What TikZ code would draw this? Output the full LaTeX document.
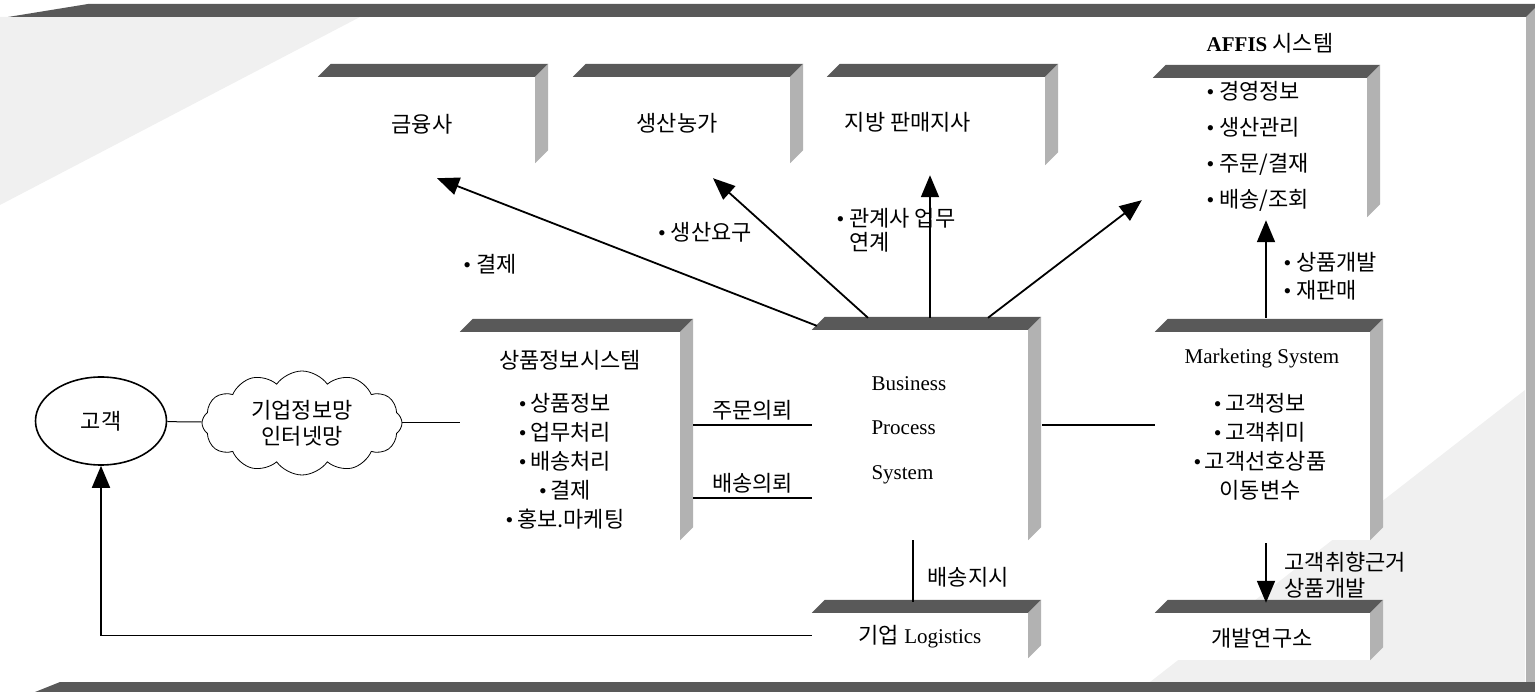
\documentclass[tikz,border=0pt]{standalone}
\usepackage{fontspec}
\setmainfont{Liberation Serif}
\newfontfamily\kr{Noto Sans CJK KR}
\usetikzlibrary{positioning,arrows.meta,shapes.geometric,shapes.symbols}
\newcommand\bul{{\rmfamily\textbullet}}
\tikzset{
  topface/.style={fill=black!65},
  sideface/.style={fill=black!30},
  scan/.style={fill=black!6},
  tdbox/.style={inner sep=0pt,fill=white},
  krtxt/.style={font=\kr\fontsize{22}{24}\selectfont},
  lattxt/.style={font=\fontsize{21}{26}\selectfont},
  arr/.style={-{Triangle[length=22pt,width=18pt]},line width=1.8pt},
  link/.style={line width=1.6pt},
  thinlink/.style={line width=1pt},
}

\begin{document}
\begin{tikzpicture}[x=1pt,y=-1pt]
  \useasboundingbox (0,0) rectangle (1535,692);
  % scanned shading of the frame
  \fill[scan] (0,17) -- (360,17) -- (0,205) -- cycle;
  \fill[scan] (1525,390) -- (1525,682) -- (1150,682) -- cycle;
  % outer frame
  \fill[topface] (8,17) -- (88,4) -- (1535,4) -- (1535,17) -- cycle;
  \fill[sideface] (1526,17) -- (1535,8) -- (1535,692) -- (1526,692) -- cycle;
  \fill[topface] (35,692) -- (60,682) -- (1535,682) -- (1535,692) -- cycle;

  % boxes
  \node[tdbox,minimum width=217pt,minimum height=86pt] (fin) at (426.5,120) {};
  \node[tdbox,minimum width=217pt,minimum height=86pt] (farm) at (681.5,120) {};
  \node[tdbox,minimum width=218pt,minimum height=88pt] (branch) at (936,121) {};
  \node[tdbox,minimum width=214pt,minimum height=139pt] (affis) at (1260,147.5) {};
  \node[tdbox,minimum width=220pt,minimum height=208pt] (pis) at (570,436) {};
  \node[tdbox,minimum width=216pt,minimum height=210pt] (bps) at (920,435) {};
  \node[tdbox,minimum width=215pt,minimum height=208pt] (mkt) at (1262.5,436) {};
  \node[tdbox,minimum width=215pt,minimum height=47pt] (lab) at (1262.5,636.5) {};
  \node[tdbox,minimum width=216pt,minimum height=45pt] (logi) at (920,635.5) {};
  \foreach \b in {fin,farm,branch,affis,pis,bps,mkt,lab,logi}{
    \fill[topface] (\b.north west) -- ++(13,-13) -- ([shift={(13,-13)}]\b.north east) -- (\b.north east) -- cycle;
    \fill[sideface] (\b.north east) -- ++(13,-13) -- ([shift={(13,-13)}]\b.south east) -- (\b.south east) -- cycle;
  }

  \node[ellipse,draw,line width=1.6pt,minimum width=131pt,minimum height=88pt,krtxt] (cust) at (101,421) {고객};
  \node[cloud,draw,line width=0.8pt,cloud puffs=12,cloud puff arc=110,aspect=2,
        minimum width=200pt,minimum height=104pt,inner sep=0pt,
        font=\kr\fontsize{22}{26}\selectfont,align=center] (net) at (302,423) {기업정보망\\인터넷망};

  % titles
  \node[krtxt] (fin-t) at (422,124) {금융사};
  \node[krtxt] (farm-t) at (677,123) {생산농가};
  \node[krtxt] (branch-t) at (908,122) {지방 판매지사};
  \node[lattxt] (affis-t) at (1270,43) {\textbf{AFFIS} {\kr\fontsize{22}{24}\selectfont 시스템}};
  \node[font=\kr\fontsize{22}{36}\selectfont,align=left,anchor=west] (affis-l) at (1203,146)
    {\bul\ 경영정보\\\bul\ 생산관리\\\bul\ 주문/결재\\\bul\ 배송/조회};
  \node[krtxt] (pis-t) at (570,360) {상품정보시스템};
  \node[font=\kr\fontsize{22}{29}\selectfont,align=center] (pis-l) at (565,461)
    {\bul\,상품정보\\\bul\,업무처리\\\bul\,배송처리\\\bul\,결제\\\bul\,홍보.마케팅};
  \node[font=\fontsize{21}{44.5}\selectfont,align=left,anchor=west] (bps-t) at (868,430)
    {Business\\Process\\System};
  \node[lattxt] (mkt-t) at (1262,358) {Marketing System};
  \node[font=\kr\fontsize{22}{29}\selectfont,align=center] (mkt-l) at (1260,447)
    {\bul\,고객정보\\\bul\,고객취미\\\bul\,고객선호상품\\이동변수};
  \node[krtxt] (lab-t) at (1262,638) {개발연구소};
  \node[lattxt] (logi-t) at (920,637) {{\kr\fontsize{22}{24}\selectfont 기업} Logistics};

  % connectors
  \draw[thinlink] (cust) -- (net);
  \draw[thinlink] (net.east) -- (net.east -| pis.west);
  \draw[link] ([shift={(13,-11)}]pis.east) coordinate (o1) -- (o1 -| bps.west)
    node[midway,above=1pt,krtxt] (ord) {주문의뢰};
  \draw[link] ([shift={(13,62)}]pis.east) coordinate (o2) -- (o2 -| bps.west)
    node[midway,above=1pt,krtxt] (dlv) {배송의뢰};
  \draw[link] ([shift={(14,-10)}]bps.east) coordinate (o3) -- (o3 -| mkt.west);
  \draw[arr] ([shift={(5,-4)}]bps.north west) -- ([shift={(10.5,15)}]fin.south);
  \draw[arr] ([shift={(-52,-12)}]bps.north) -- ([shift={(31.5,15)}]farm.south);
  \draw[arr] ([shift={(10,-12)}]bps.north) -- ([shift={(-6,10)}]branch.south);
  \draw[arr] ([shift={(68,-12)}]bps.north) -- ([shift={(-11,-17)}]affis.south west);
  \draw[arr] ([shift={(3.5,-14)}]mkt.north) -- ([shift={(6,3)}]affis.south);
  \draw[arr] ([shift={(3.5,3)}]mkt.south) -- ([shift={(3.5,-10)}]lab.north);
  \draw[link] ([xshift=-7pt]bps.south) -- ([shift={(-7,-11)}]logi.north);
  \draw[arr] (logi.west) -| (cust.south);

  % labels
  \node[krtxt] (l-pay) at (490,264) {\bul\ 결제};
  \node[krtxt] (l-req) at (705,232) {\bul\ 생산요구};
  \node[krtxt,align=left,anchor=west] (l-rel) at (833,230)
    {\bul\ 관계사 업무\\\phantom{\bul\ }연계};
  \node[font=\kr\fontsize{22}{28}\selectfont,align=left,anchor=west] (l-dev) at (1280,276)
    {\bul\ 상품개발\\\bul\ 재판매};
  \node[font=\kr\fontsize{22}{26}\selectfont,align=left,anchor=west] (l-pref) at (1281,575)
    {고객취향근거\\상품개발};
  \node[krtxt] (l-ship) at (968,577) {배송지시};
\end{tikzpicture}
\end{document}
